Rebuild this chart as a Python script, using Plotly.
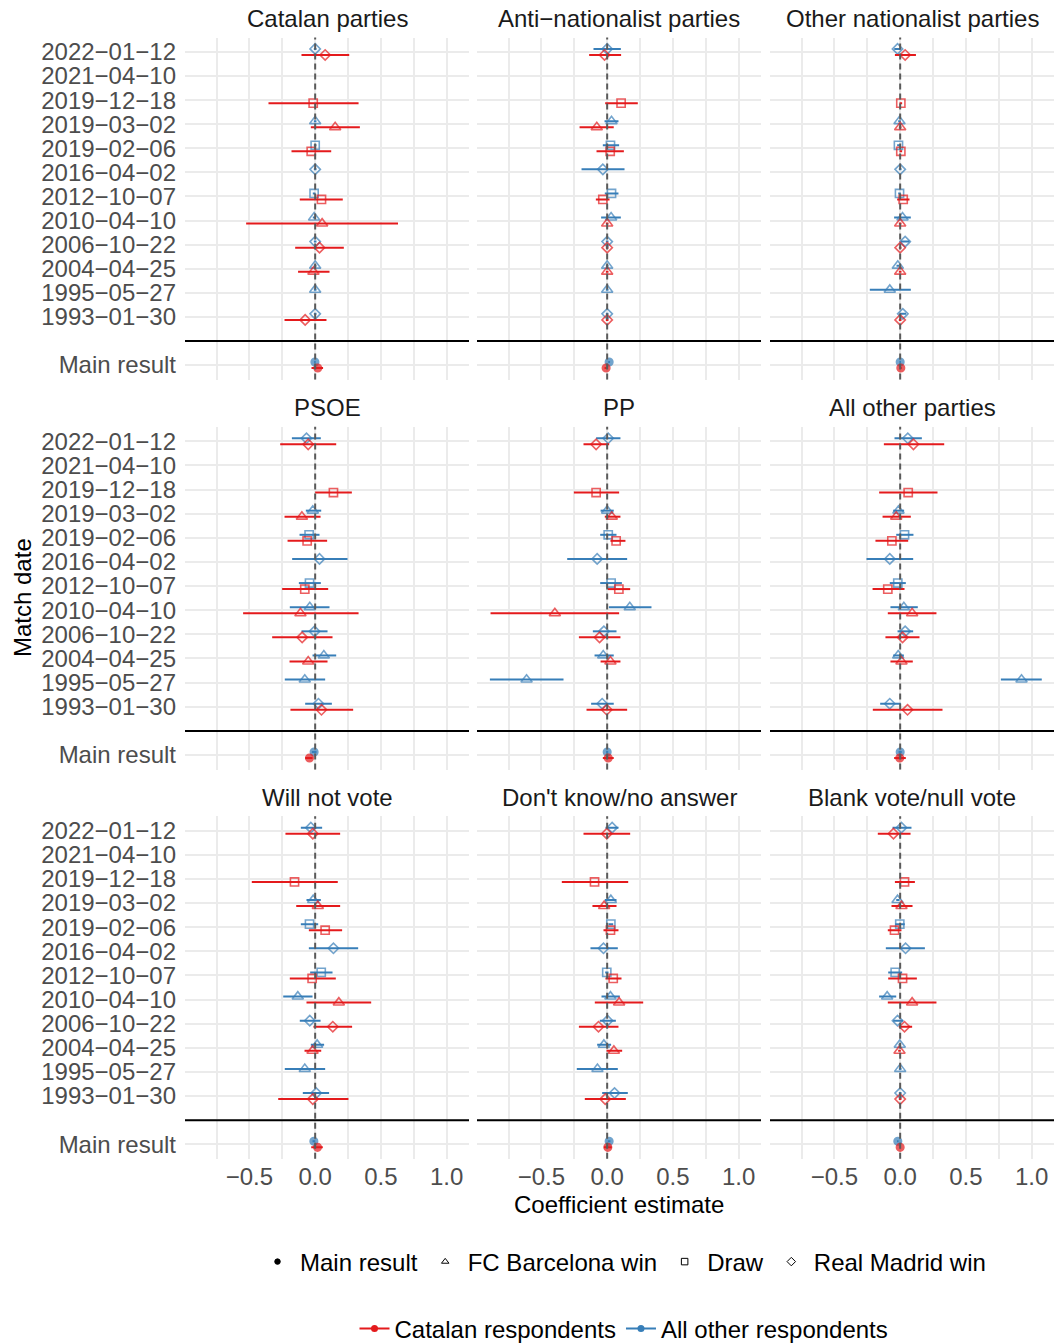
import plotly.graph_objects as go

# ---------------------------------------------------------------- data
DATES = ["2022-01-12", "2021-04-10", "2019-12-18", "2019-03-02", "2019-02-06",
         "2016-04-02", "2012-10-07", "2010-04-10", "2006-10-22", "2004-04-25",
         "1995-05-27", "1993-01-30"]
OUTCOMES = ["Real Madrid win", "Real Madrid win", "Draw", "FC Barcelona win", "Draw",
            "Real Madrid win", "Draw", "FC Barcelona win", "Real Madrid win",
            "FC Barcelona win", "FC Barcelona win", "Real Madrid win"]
MAIN_LABEL = "Main result"

PANELS = ["Catalan parties", "Anti\u2212nationalist parties", "Other nationalist parties",
          "PSOE", "PP", "All other parties",
          "Will not vote", "Don't know/no answer", "Blank vote/null vote"]

# (estimate, lower, upper) for each match date in DATES order, last entry = main result
CATALAN_PARTIES_CAT = [(0.076, -0.104, 0.259), None, (-0.015, -0.355, 0.330), (0.152, -0.033, 0.340),
                       (-0.030, -0.180, 0.122), None, (0.048, -0.117, 0.210), (0.053, -0.525, 0.630),
                       (0.033, -0.152, 0.218), (-0.013, -0.130, 0.109), None, (-0.076, -0.233, 0.086),
                       (0.020, -0.028, 0.060)]
CATALAN_PARTIES_OTH = [(0.0, -0.010, 0.010), None, None, (0.0, -0.010, 0.010),
                       (0.0, -0.010, 0.010), (0.0, -0.010, 0.010), (-0.008, -0.018, 0.002), (-0.008, -0.018, 0.002),
                       (0.0, -0.010, 0.010), (0.0, -0.010, 0.010), (0.0, -0.010, 0.010), (0.0, -0.010, 0.010),
                       (-0.002, -0.008, 0.004)]

ANTI_NAT_CAT = [(-0.020, -0.137, 0.106), None, (0.106, -0.015, 0.233), (-0.079, -0.210, 0.050),
                (0.023, -0.081, 0.127), None, (-0.033, -0.086, 0.018), (0.0, -0.010, 0.010),
                (0.0, -0.010, 0.010), (0.0, -0.010, 0.010), None, (0.0, -0.010, 0.010),
                (-0.008, -0.020, 0.004)]
ANTI_NAT_OTH = [(0.0, -0.104, 0.104), None, None, (0.033, -0.020, 0.086),
                (0.025, -0.033, 0.091), (-0.033, -0.195, 0.132), (0.033, -0.018, 0.086), (0.030, -0.046, 0.104),
                (0.0, -0.010, 0.010), (0.0, -0.010, 0.010), (0.0, -0.010, 0.010), (0.0, -0.010, 0.010),
                (0.015, 0.008, 0.022)]

OTHER_NAT_CAT = [(0.038, -0.040, 0.120), None, (0.005, -0.005, 0.015), (0.0, -0.010, 0.010),
                 (0.005, -0.005, 0.015), None, (0.023, -0.023, 0.071), (0.0, -0.010, 0.010),
                 (0.0, -0.010, 0.010), (0.0, -0.010, 0.010), None, (0.0, -0.010, 0.010),
                 (0.005, -0.002, 0.012)]
OTHER_NAT_OTH = [(-0.020, -0.045, 0.005), None, None, (-0.005, -0.015, 0.005),
                 (-0.013, -0.023, -0.003), (0.0, -0.010, 0.010), (-0.005, -0.015, 0.005), (0.018, -0.046, 0.081),
                 (0.038, 0.005, 0.071), (-0.018, -0.028, -0.008), (-0.079, -0.231, 0.081), (0.020, -0.005, 0.045),
                 (0.0, -0.006, 0.006)]

PSOE_CAT = [(-0.053, -0.266, 0.160), None, (0.139, 0.0, 0.279), (-0.101, -0.233, 0.041),
            (-0.061, -0.210, 0.091), None, (-0.079, -0.251, 0.099), (-0.112, -0.548, 0.330),
            (-0.099, -0.327, 0.132), (-0.053, -0.195, 0.094), None, (0.048, -0.188, 0.289),
            (-0.043, -0.076, -0.020)]
PSOE_OTH = [(-0.066, -0.177, 0.043), None, None, (-0.018, -0.071, 0.046),
            (-0.046, -0.119, 0.033), (0.033, -0.175, 0.246), (-0.043, -0.124, 0.043), (-0.041, -0.193, 0.109),
            (-0.005, -0.104, 0.094), (0.066, -0.020, 0.160), (-0.079, -0.231, 0.076), (0.025, -0.076, 0.127),
            (-0.008, -0.025, 0.010)]

PP_CAT = [(-0.084, -0.180, 0.015), None, (-0.084, -0.253, 0.091), (0.035, -0.018, 0.101),
          (0.068, 0.025, 0.139), None, (0.089, 0.005, 0.175), (-0.398, -0.887, 0.091),
          (-0.058, -0.215, 0.101), (0.025, -0.050, 0.101), None, (-0.003, -0.157, 0.152),
          (0.008, -0.033, 0.050)]
PP_OTH = [(0.008, -0.084, 0.101), None, None, (0.0, -0.050, 0.050),
          (0.008, -0.053, 0.071), (-0.076, -0.304, 0.152), (0.030, -0.053, 0.112), (0.172, 0.013, 0.337),
          (-0.025, -0.109, 0.071), (-0.030, -0.096, 0.050), (-0.613, -0.892, -0.332), (-0.038, -0.122, 0.050),
          (0.0, -0.008, 0.008)]

ALL_OTHER_CAT = [(0.101, -0.124, 0.335), None, (0.061, -0.160, 0.284), (-0.030, -0.134, 0.081),
                 (-0.063, -0.188, 0.061), None, (-0.094, -0.210, 0.033), (0.091, -0.094, 0.276),
                 (0.018, -0.112, 0.147), (0.010, -0.074, 0.096), None, (0.056, -0.208, 0.322),
                 (-0.003, -0.046, 0.043)]
ALL_OTHER_OTH = [(0.058, -0.043, 0.165), None, None, (-0.013, -0.053, 0.030),
                 (0.033, -0.030, 0.101), (-0.079, -0.256, 0.099), (-0.018, -0.079, 0.043), (0.028, -0.074, 0.134),
                 (0.038, -0.020, 0.099), (-0.015, -0.053, 0.028), (0.923, 0.766, 1.077), (-0.079, -0.152, 0.005),
                 (0.0, -0.012, 0.012)]

NO_VOTE_CAT = [(-0.018, -0.226, 0.190), None, (-0.157, -0.482, 0.172), (0.020, -0.144, 0.190),
               (0.076, -0.048, 0.205), None, (-0.023, -0.193, 0.157), (0.180, -0.066, 0.426),
               (0.134, -0.013, 0.281), (-0.020, -0.081, 0.046), None, (-0.018, -0.281, 0.253),
               (0.018, -0.030, 0.058)]
NO_VOTE_OTH = [(-0.033, -0.109, 0.053), None, None, (-0.015, -0.066, 0.043),
               (-0.043, -0.109, 0.023), (0.139, -0.048, 0.327), (0.046, -0.038, 0.132), (-0.132, -0.243, -0.020),
               (-0.041, -0.117, 0.041), (0.015, -0.033, 0.068), (-0.079, -0.231, 0.076), (0.008, -0.094, 0.106),
               (-0.010, -0.020, 0.0)]

DONT_KNOW_CAT = [(-0.003, -0.180, 0.175), None, (-0.096, -0.345, 0.160), (-0.023, -0.112, 0.071),
                 (0.025, -0.028, 0.086), None, (0.046, -0.013, 0.109), (0.091, -0.094, 0.274),
                 (-0.066, -0.215, 0.086), (0.051, -0.005, 0.114), None, (-0.015, -0.170, 0.142),
                 (0.005, -0.025, 0.035)]
DONT_KNOW_OTH = [(0.038, -0.013, 0.086), None, None, (0.028, -0.018, 0.071),
                 (0.028, 0.010, 0.046), (-0.028, -0.127, 0.081), (-0.003, -0.015, 0.010), (0.025, -0.043, 0.096),
                 (0.003, -0.056, 0.066), (-0.025, -0.076, 0.030), (-0.074, -0.231, 0.081), (0.056, -0.038, 0.157),
                 (0.015, 0.005, 0.025)]

BLANK_CAT = [(-0.051, -0.170, 0.079), None, (0.033, -0.040, 0.112), (0.010, -0.066, 0.094),
             (-0.043, -0.094, 0.010), None, (0.018, -0.091, 0.127), (0.091, -0.094, 0.276),
             (0.033, -0.008, 0.091), (-0.005, -0.015, 0.005), None, (0.0, -0.010, 0.010),
             (0.0, -0.006, 0.006)]
BLANK_OTH = [(0.010, -0.058, 0.086), None, None, (-0.020, -0.030, -0.005),
             (-0.003, -0.038, 0.035), (0.041, -0.109, 0.188), (-0.038, -0.091, 0.015), (-0.099, -0.160, -0.030),
             (-0.020, -0.053, 0.023), (-0.003, -0.013, 0.007), (0.0, -0.010, 0.010), (0.0, -0.010, 0.010),
             (-0.018, -0.024, -0.012)]

PANEL_DATA = [
    (CATALAN_PARTIES_CAT, CATALAN_PARTIES_OTH),
    (ANTI_NAT_CAT, ANTI_NAT_OTH),
    (OTHER_NAT_CAT, OTHER_NAT_OTH),
    (PSOE_CAT, PSOE_OTH),
    (PP_CAT, PP_OTH),
    (ALL_OTHER_CAT, ALL_OTHER_OTH),
    (NO_VOTE_CAT, NO_VOTE_OTH),
    (DONT_KNOW_CAT, DONT_KNOW_OTH),
    (BLANK_CAT, BLANK_OTH),
]

X_TICKS = [-0.5, 0.0, 0.5, 1.0]

# ---------------------------------------------------------------- styling
RED = "#E41A1C"
BLUE = "#377EB8"
GRID = "#EBEBEB"
FONT = "Liberation Sans, Arial, Helvetica, sans-serif"
W, H = 1054, 1344
SYMBOLS = {"FC Barcelona win": "triangle-up-open", "Draw": "square-open",
           "Real Madrid win": "diamond-open", MAIN_LABEL: "circle"}
SIZES = {"FC Barcelona win": 9.8, "Draw": 8.2, "Real Madrid win": 8, MAIN_LABEL: 7.5}

# numeric y positions: dates from top (14) down to 3, gap at 2, main result at 1
n = len(DATES)
Y_POS = [n + 2 - i for i in range(n)] + [1]
LABELS = OUTCOMES + [MAIN_LABEL]
SEP_Y = 2

COL_PX = [(185, 469), (477, 761), (770, 1054)]
ROW_PX = [(37.5, 379.5), (426.8, 769.5), (816.2, 1158.8)]
X_RANGE = [-0.99, 1.17]
Y_RANGE = [0.4, 14.6]

fig = go.Figure()
layout_axes = {}
shapes = []
annotations = []


def axis_name(k, letter):
    return letter if k == 1 else f"{letter}{k}"


def add_group(rows, color, offset, xa, ya):
    xs, ys, syms, sizes, plus, minus = [], [], [], [], [], []
    for val, yp, lab in zip(rows, Y_POS, LABELS):
        if val is None:
            continue
        est, lo, hi = val
        xs.append(est)
        ys.append(yp + offset)
        syms.append(SYMBOLS[lab])
        sizes.append(SIZES[lab])
        plus.append(hi - est)
        minus.append(est - lo)
    fig.add_trace(go.Scatter(
        x=xs, y=ys, mode="markers", xaxis=xa, yaxis=ya, showlegend=False,
        hoverinfo="skip",
        marker=dict(symbol=syms, size=sizes, color=color,
                    line=dict(color=color, width=1.6)),
        error_x=dict(type="data", symmetric=False, array=plus, arrayminus=minus,
                     color=color, thickness=2, width=0),
    ))


for p, (title, (cat_rows, oth_rows)) in enumerate(zip(PANELS, PANEL_DATA)):
    r, c = divmod(p, 3)
    k = p + 1
    xa, ya = axis_name(k, "x"), axis_name(k, "y")
    x0, x1 = COL_PX[c]
    y0, y1 = ROW_PX[r]

    layout_axes["xaxis" if k == 1 else f"xaxis{k}"] = dict(
        domain=[x0 / W, x1 / W], anchor=ya, range=X_RANGE, fixedrange=True,
        tickvals=X_TICKS, ticktext=[f"{v:.1f}".replace("-", "\u2212") for v in X_TICKS],
        showticklabels=(r == 2), ticks="", zeroline=False, showline=False,
        showgrid=True, gridcolor=GRID, gridwidth=2,
        ticklabelstandoff=1,
        minor=dict(dtick=0.25, tick0=0, showgrid=True, gridcolor=GRID, gridwidth=1.5),
        tickfont=dict(family=FONT, size=24, color="#4D4D4D"),
    )
    layout_axes["yaxis" if k == 1 else f"yaxis{k}"] = dict(
        domain=[1 - y1 / H, 1 - y0 / H], anchor=xa, range=Y_RANGE, fixedrange=True,
        tickvals=Y_POS + [SEP_Y],
        ticktext=[d.replace("-", "\u2212") for d in DATES] + [MAIN_LABEL, ""],
        showticklabels=(c == 0), ticks="", zeroline=False, showline=False,
        showgrid=True, gridcolor=GRID, gridwidth=2,
        ticklabelstandoff=8,
        tickfont=dict(family=FONT, size=24, color="#4D4D4D"),
    )

    # reference line at zero and separator above the main result
    shapes.append(dict(type="line", xref=xa, yref=f"{ya} domain", x0=0, x1=0, y0=0, y1=1,
                       line=dict(color="#5A5A5A", width=2, dash="6px,4px"), layer="above"))
    shapes.append(dict(type="line", xref=f"{xa} domain", yref=ya, x0=0, x1=1, y0=SEP_Y, y1=SEP_Y,
                       line=dict(color="black", width=2), layer="above"))

    annotations.append(dict(text=title, xref="paper", yref="paper",
                            x=(x0 + x1) / 2 / W, y=1 - (y0 - 19) / H,
                            xanchor="center", yanchor="middle", showarrow=False,
                            font=dict(family=FONT, size=24, color="#1A1A1A")))

    add_group(oth_rows, BLUE, 0.125, xa, ya)
    add_group(cat_rows, RED, -0.125, xa, ya)

# axis titles
annotations.append(dict(text="Coefficient estimate", xref="paper", yref="paper",
                        x=619 / W, y=1 - 1204 / H, xanchor="center", yanchor="middle",
                        showarrow=False, font=dict(family=FONT, size=24, color="black")))
annotations.append(dict(text="Match date", xref="paper", yref="paper",
                        x=22 / W, y=1 - 598 / H, xanchor="center", yanchor="middle",
                        textangle=-90, showarrow=False, font=dict(family=FONT, size=24, color="black")))

# legend entries: outcome shapes
for lab in [MAIN_LABEL, "FC Barcelona win", "Draw", "Real Madrid win"]:
    fig.add_trace(go.Scatter(
        x=[None], y=[None], mode="markers", name=lab, legend="legend",
        marker=dict(symbol=SYMBOLS[lab], size=5.5 if lab == MAIN_LABEL else 6.5,
                    color="black", line=dict(color="black", width=1)),
    ))
# legend entries: respondent groups
for lab, col in [("Catalan respondents", RED), ("All other respondents", BLUE)]:
    fig.add_trace(go.Scatter(
        x=[None], y=[None], mode="lines+markers", name=lab, legend="legend2",
        line=dict(color=col, width=2), marker=dict(symbol="circle", size=7, color=col),
    ))

fig.update_layout(
    width=W, height=H, margin=dict(l=0, r=0, t=0, b=0, autoexpand=False),
    paper_bgcolor="white", plot_bgcolor="white",
    font=dict(family=FONT, size=24, color="black"),
    shapes=shapes, annotations=annotations,
    legend=dict(orientation="h", x=623 / W, y=1 - 1262 / H, xanchor="center", yanchor="middle",
                font=dict(family=FONT, size=24, color="black"), itemsizing="trace",
                itemwidth=35, bgcolor="rgba(0,0,0,0)"),
    legend2=dict(orientation="h", x=624 / W, y=1 - 1329 / H, xanchor="center", yanchor="middle",
                 font=dict(family=FONT, size=24, color="black"), itemsizing="trace",
                 bgcolor="rgba(0,0,0,0)"),
    **layout_axes,
)

fig.write_html("out.html")
